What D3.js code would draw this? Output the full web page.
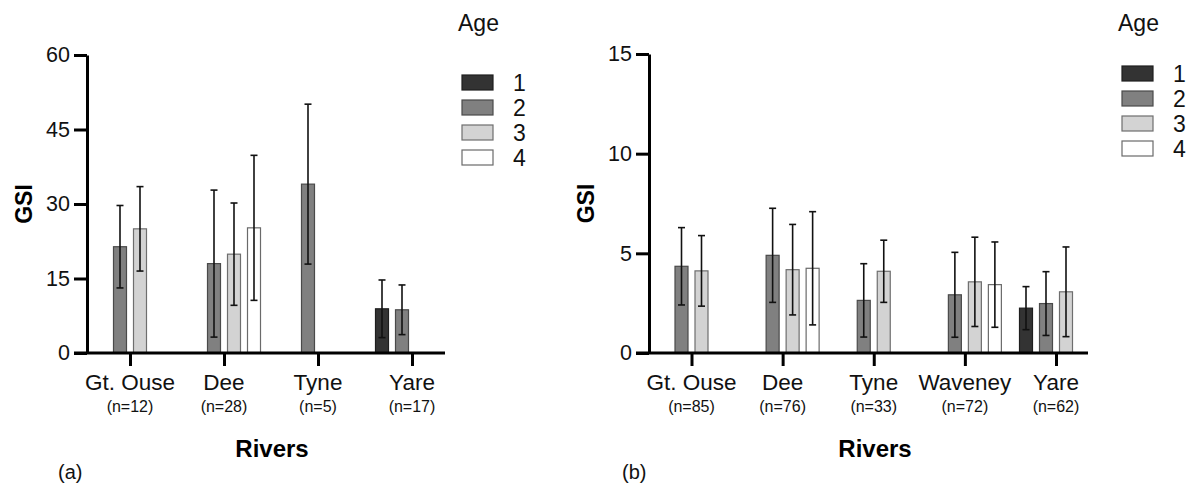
<!DOCTYPE html>
<html>
<head>
<meta charset="utf-8">
<script src="https://cdn.jsdelivr.net/npm/d3@7"></script>
<style>
  html, body { margin: 0; padding: 0; background: #fff; }
  svg { display: block; font-family: "Liberation Sans", Arial, sans-serif; }
</style>
</head>
<body>
<svg id="chart" width="1192" height="488"></svg>
<script>
// Age classes and their fills
const ages = ["1", "2", "3", "4"];
const ageFill = ["#333333", "#808080", "#d3d3d3", "#ffffff"];
const ageStroke = ["#1e1e1e", "#4a4a4a", "#6e6e6e", "#6a6a6a"];

// Panel (a)
const riversA = ["Gt. Ouse", "Dee", "Tyne", "Yare"];
const countsA = ["(n=12)", "(n=28)", "(n=5)", "(n=17)"];
const yTicksA = [0, 15, 30, 45, 60];
// mean GSI per river, by age 1..4 (null = no fish of that age)
const meanA = [
  [null, 21.4, 25.0, null],
  [null, 18.0, 19.9, 25.2],
  [null, 34.0, null, null],
  [8.9, 8.7, null, null]
];
const sdA = [
  [null, 8.3, 8.5, null],
  [null, 14.8, 10.3, 14.6],
  [null, 16.1, null, null],
  [5.8, 5.0, null, null]
];

// Panel (b)
const riversB = ["Gt. Ouse", "Dee", "Tyne", "Waveney", "Yare"];
const countsB = ["(n=85)", "(n=76)", "(n=33)", "(n=72)", "(n=62)"];
const yTicksB = [0, 5, 10, 15];
const meanB = [
  [null, 4.35, 4.12, null],
  [null, 4.90, 4.18, 4.25],
  [null, 2.64, 4.10, null],
  [null, 2.92, 3.57, 3.43],
  [2.25, 2.48, 3.07, null]
];
const sdB = [
  [null, 1.94, 1.77, null],
  [null, 2.36, 2.27, 2.84],
  [null, 1.84, 1.56, null],
  [null, 2.13, 2.24, 2.14],
  [1.08, 1.60, 2.25, null]
];

const svg = d3.select("#chart");

function drawPanel(opt) {
  const g = svg.append("g");
  const y = d3.scaleLinear().domain([0, opt.yMax]).range([opt.y0, opt.y1]);
  const x = d3.scalePoint().domain(opt.rivers).range([opt.xFirst, opt.xLast]);
  const sub = d3.scaleBand().domain(ages).range([-40, 40]).paddingInner(0.35).paddingOuter(0.175);

  // bars + error bars
  const rows = [];
  opt.rivers.forEach((r, i) => {
    ages.forEach((a, j) => {
      const m = opt.mean[i][j];
      if (m !== null) rows.push({ river: r, age: a, j, mean: m, sd: opt.sd[i][j] });
    });
  });

  g.selectAll("rect.bar").data(rows).join("rect")
    .attr("class", "bar")
    .attr("x", d => x(d.river) + sub(d.age))
    .attr("width", sub.bandwidth())
    .attr("y", d => y(d.mean))
    .attr("height", d => y(0) - y(d.mean))
    .attr("fill", d => ageFill[d.j])
    .attr("stroke", d => ageStroke[d.j])
    .attr("stroke-width", 1.2);

  const err = g.selectAll("g.err").data(rows).join("g").attr("class", "err")
    .attr("stroke", "#111").attr("stroke-width", 1.6);
  const cx = d => x(d.river) + sub(d.age) + sub.bandwidth() / 2;
  err.append("line")
    .attr("x1", cx).attr("x2", cx)
    .attr("y1", d => y(d.mean + d.sd)).attr("y2", d => y(Math.max(0, d.mean - d.sd)));
  err.append("line")
    .attr("x1", d => cx(d) - 3.5).attr("x2", d => cx(d) + 3.5)
    .attr("y1", d => y(d.mean + d.sd)).attr("y2", d => y(d.mean + d.sd));
  err.append("line")
    .attr("x1", d => cx(d) - 3.5).attr("x2", d => cx(d) + 3.5)
    .attr("y1", d => y(Math.max(0, d.mean - d.sd))).attr("y2", d => y(Math.max(0, d.mean - d.sd)));

  // y axis
  const yAxis = d3.axisLeft(y).tickValues(opt.yTicks).tickSize(13).tickPadding(4).tickSizeOuter(0);
  const ya = g.append("g").attr("transform", `translate(${opt.xAxis},0)`).call(yAxis);
  ya.select(".domain").attr("stroke", "#000").attr("stroke-width", 3);
  ya.selectAll(".tick line").attr("stroke", "#000").attr("stroke-width", 3);
  ya.selectAll(".tick text").attr("font-size", 21.5).attr("fill", "#111")
    .attr("font-family", "Liberation Sans, Arial, sans-serif");

  // x axis
  const xAxis = d3.axisBottom(x).tickSize(13).tickSizeOuter(0).tickFormat("");
  const xa = g.append("g").attr("transform", `translate(0,${opt.y0})`).call(xAxis);
  xa.select(".domain").remove();
  xa.append("line")
    .attr("x1", opt.xAxis - 13).attr("x2", opt.xEnd)
    .attr("y1", 0).attr("y2", 0)
    .attr("stroke", "#000").attr("stroke-width", 3);
  xa.selectAll(".tick line").attr("stroke", "#000").attr("stroke-width", 3);

  // category labels
  g.selectAll("text.cat").data(opt.rivers).join("text").attr("class", "cat")
    .attr("x", d => x(d)).attr("y", opt.y0 + 37)
    .attr("text-anchor", "middle").attr("font-size", 22.5).attr("fill", "#111")
    .text(d => d);
  g.selectAll("text.cnt").data(opt.rivers).join("text").attr("class", "cnt")
    .attr("x", d => x(d)).attr("y", opt.y0 + 59)
    .attr("text-anchor", "middle").attr("font-size", 16).attr("fill", "#111")
    .text((d, i) => opt.counts[i]);

  // axis titles
  g.append("text")
    .attr("transform", `translate(${opt.xAxis - 55},${(opt.y0 + opt.y1) / 2}) rotate(-90)`)
    .attr("text-anchor", "middle").attr("font-size", 23).attr("font-weight", "bold").attr("fill", "#000")
    .text("GSI");
  g.append("text")
    .attr("x", opt.riversX).attr("y", 457)
    .attr("text-anchor", "middle").attr("font-size", 24).attr("font-weight", "bold").attr("fill", "#000")
    .text("Rivers");
  g.append("text")
    .attr("x", opt.tagX).attr("y", 479)
    .attr("font-size", 20).attr("fill", "#111")
    .text(opt.tag);

  // legend
  const lg = g.append("g").attr("transform", `translate(${opt.legX},0)`);
  lg.append("text").attr("x", 0).attr("y", 31).attr("font-size", 23).attr("fill", "#111").text("Age");
  const li = lg.selectAll("g.li").data(ages).join("g").attr("class", "li")
    .attr("transform", (d, i) => `translate(4,${opt.legY + i * 25})`);
  li.append("rect").attr("width", 31).attr("height", 15)
    .attr("fill", (d, i) => ageFill[i]).attr("stroke", (d, i) => ageStroke[i]).attr("stroke-width", 1.2);
  li.append("text").attr("x", 51).attr("y", 16).attr("font-size", 23).attr("fill", "#111").text(d => d);
}

drawPanel({
  rivers: riversA, counts: countsA, mean: meanA, sd: sdA,
  yMax: 60, yTicks: yTicksA, y0: 353, y1: 55,
  xAxis: 87, xFirst: 130, xLast: 412, xEnd: 445,
  riversX: 272, tag: "(a)", tagX: 58, legX: 458, legY: 75
});

drawPanel({
  rivers: riversB, counts: countsB, mean: meanB, sd: sdB,
  yMax: 15, yTicks: yTicksB, y0: 353, y1: 54,
  xAxis: 649, xFirst: 691.5, xLast: 1056, xEnd: 1088,
  riversX: 875, tag: "(b)", tagX: 622, legX: 1118, legY: 66
});
</script>
</body>
</html>
